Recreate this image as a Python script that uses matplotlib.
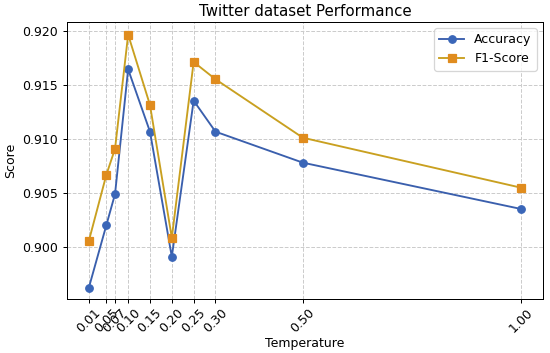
import matplotlib
matplotlib.use("Agg")
import matplotlib.pyplot as plt

temperature = [0.01, 0.05, 0.07, 0.10, 0.15, 0.20, 0.25, 0.30, 0.50, 1.00]
tick_labels = ["0.01", "0.05", "0.07", "0.10", "0.15", "0.20", "0.25", "0.30", "0.50", "1.00"]
accuracy = [0.89623, 0.90201, 0.90491, 0.91645, 0.91068, 0.89910, 0.91355, 0.91068, 0.90781, 0.90352]
f1_score = [0.90056, 0.90667, 0.90910, 0.91966, 0.91315, 0.90086, 0.91713, 0.91553, 0.91012, 0.90549]

DPI = 90
fig = plt.figure(figsize=(550/DPI, 353/DPI), dpi=DPI)
ax = fig.add_axes([67/550, 1 - 299/353, (543-67)/550, (299-22)/353])

ax.plot(temperature, accuracy, marker='o', color='#3a5fad', markerfacecolor='#3a66b8',
        markeredgecolor='#3a66b8', markersize=6, linewidth=1.5, label='Accuracy')
ax.plot(temperature, f1_score, marker='s', color='#c9a020', markerfacecolor='#e08c1e',
        markeredgecolor='#e08c1e', markersize=6, linewidth=1.5, label='F1-Score')

ax.set_xticks(temperature)
ax.set_xticklabels(tick_labels, rotation=45)
ax.set_xlim(-0.04, 1.05)
ax.set_ylim(0.89519, 0.92083)
ax.set_yticks([0.900, 0.905, 0.910, 0.915, 0.920])
ax.set_yticklabels(["0.900", "0.905", "0.910", "0.915", "0.920"])
ax.tick_params(labelsize=10)
ax.tick_params(axis='x', pad=2.5)
ax.grid(True, linestyle='--', color='#cccccc', linewidth=0.8)
ax.set_xlabel('Temperature', fontsize=10, labelpad=1)
ax.set_ylabel('Score', fontsize=10)
ax.set_title('Twitter dataset Performance', fontsize=12, pad=5)
ax.legend(loc='upper right', fontsize=10)

fig.savefig('out.png', dpi=DPI)
